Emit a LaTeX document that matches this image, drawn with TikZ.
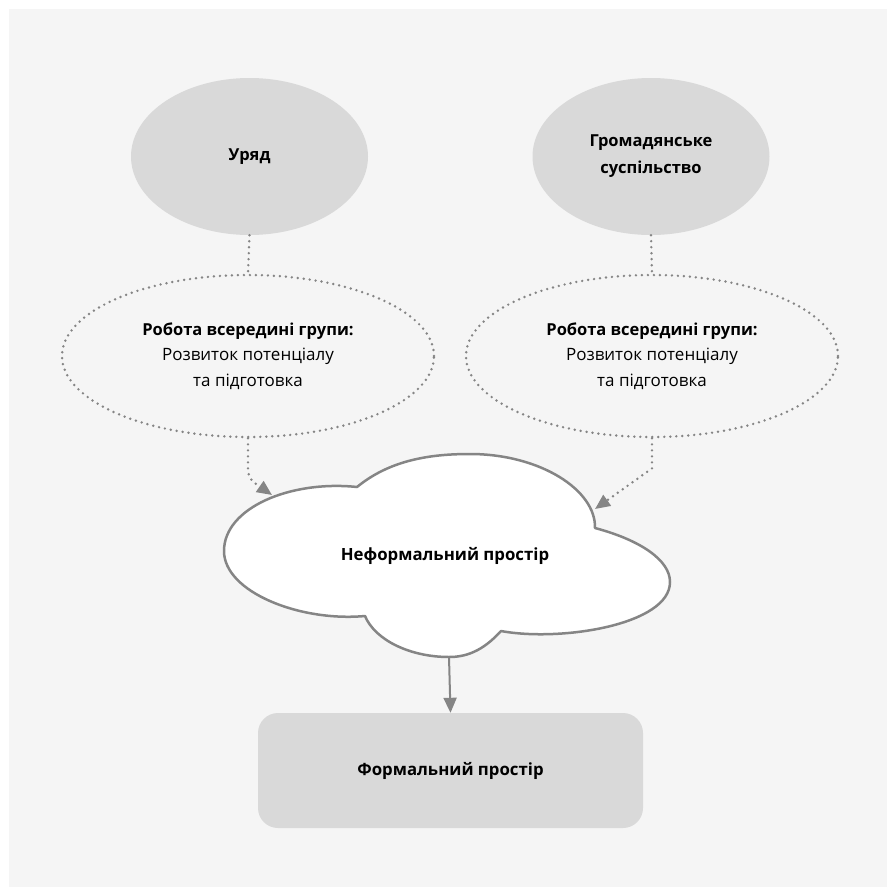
\documentclass[tikz,border=0pt]{standalone}
\usepackage{fontspec}
\setmainfont{Open Sans}
\usetikzlibrary{shapes.geometric,arrows.meta}
\definecolor{bgcol}{HTML}{F5F5F5}
\definecolor{nodefill}{HTML}{D9D9D9}
\definecolor{linegray}{HTML}{858585}
\begin{document}
\begin{tikzpicture}[x=1pt,y=-1pt,
  dotline/.style={draw=linegray,line width=2.7pt,line cap=round,dash pattern=on 0pt off 6pt},
  solidblob/.style={ellipse,fill=nodefill,minimum width=237pt,minimum height=157pt,inner sep=0pt,align=center,font=\bfseries\fontsize{16.5}{27}\selectfont},
  dotblob/.style={ellipse,dotline,minimum width=372pt,minimum height=162pt,inner sep=0pt,align=center,font=\fontsize{17}{25.5}\selectfont},
  boldline/.style={font=\bfseries\fontsize{16.5}{25.5}\selectfont},
  formalbox/.style={rectangle,rounded corners=20pt,fill=nodefill,minimum width=385pt,minimum height=115pt,inner sep=0pt,font=\bfseries\fontsize{16.8}{18}\selectfont},
  cloudline/.style={draw=linegray,line width=2.5pt,fill=white,line join=round},
  headtip/.style={-{Triangle[length=15pt,width=13pt]}},
  solidarrow/.style={draw=linegray,line width=2pt}
]
\useasboundingbox (0,0) rectangle (887,887);
\fill[white] (0,0) rectangle (887,887);
\fill[bgcol] (9,9) rectangle (887,887);

\node[solidblob] (gov) at (249.5,156.5) {Уряд};
\node[solidblob] (civ) at (651,156.5) {Громадянське\\суспільство};

\node[dotblob] (gw) at (248,356) {{\bfseries\fontsize{16.5}{25.5}\selectfont Робота всередині групи:}\\Розвиток потенціалу\\та підготовка};
\node[dotblob] (cw) at (652,356) {{\bfseries\fontsize{16.5}{25.5}\selectfont Робота всередині групи:}\\Розвиток потенціалу\\та підготовка};

% cloud
\draw[cloudline] (357,487)
  .. controls (390,460) and (430,454) .. (470,454)
  .. controls (540,454) and (596,490) .. (595,528)
  .. controls (640,540) and (670,560) .. (670,582)
  .. controls (670,625) and (560,642) .. (501,631)
  .. controls (482,652) and (465,657) .. (449,657)
  .. controls (410,657) and (375,640) .. (365,616)
  .. controls (300,622) and (224,592) .. (224,551)
  .. controls (224,508) and (290,480) .. (357,487) -- cycle;
\node[font=\bfseries\fontsize{16.8}{18}\selectfont] (cloud) at (445,556) {Неформальний простір};
\coordinate (cinL) at (272,495);
\coordinate (cinR) at (595,509);
\coordinate (cout) at (449,657);

\node[formalbox] (formal) at (450.5,770.5) {Формальний простір};

\draw[dotline] (gov.south) -- (gw.north);
\draw[dotline] (civ.south) -- (cw.north);
\draw[dotline,headtip,rounded corners=8pt] (gw.south) -- ++(0,40) -- (cinL);
\draw[dotline,headtip] (cw.south) -- ++(0,30) -- (cinR);
\draw[solidarrow,-{Triangle[length=15pt,width=13pt]}] (cout) -- (formal.north);
\end{tikzpicture}
\end{document}
